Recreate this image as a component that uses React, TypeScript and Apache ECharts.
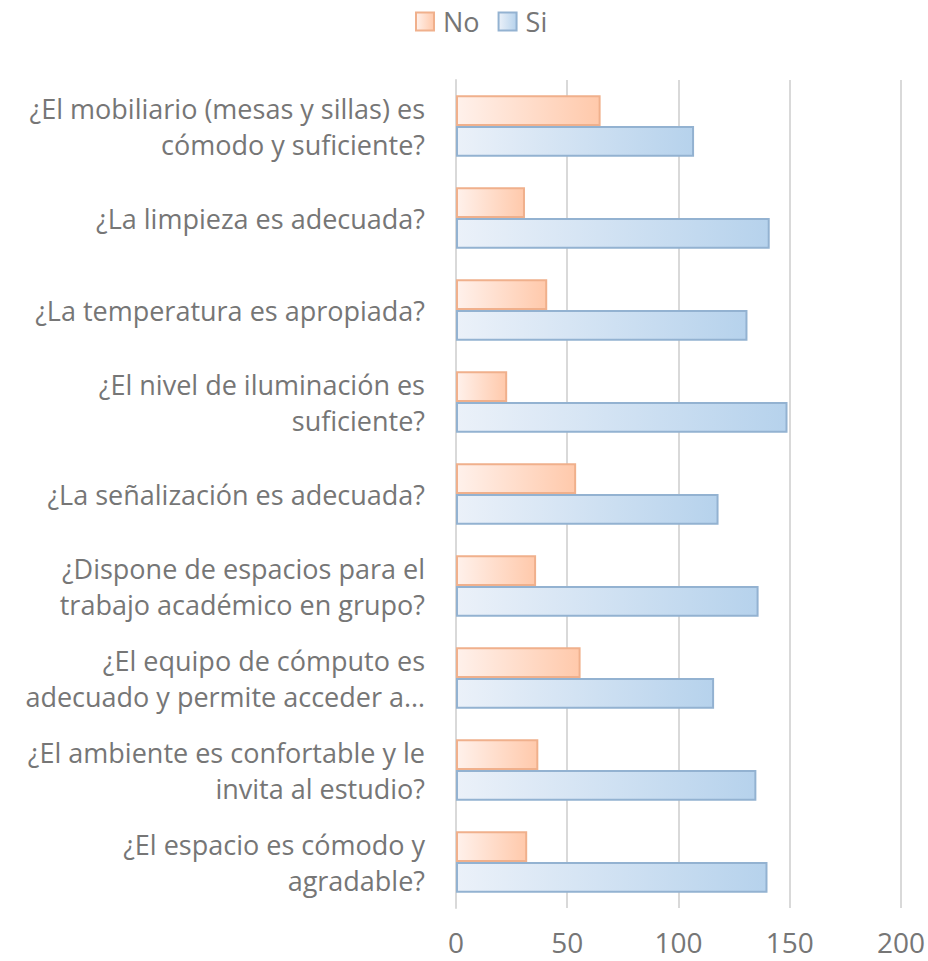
import React, { useEffect, useRef } from "react";
import * as echarts from "echarts";

const categories = [
  "¿El mobiliario (mesas y sillas) es\ncómodo y suficiente?",
  "¿La limpieza es adecuada?",
  "¿La temperatura es apropiada?",
  "¿El nivel de iluminación es\nsuficiente?",
  "¿La señalización es adecuada?",
  "¿Dispone de espacios para el\ntrabajo académico en grupo?",
  "¿El equipo de cómputo es\nadecuado y permite acceder a…",
  "¿El ambiente es confortable y le\ninvita al estudio?",
  "¿El espacio es cómodo y\nagradable?",
];
const noValues = [65, 31, 41, 23, 54, 36, 56, 37, 32];
const siValues = [107, 141, 131, 149, 118, 136, 116, 135, 140];
const seriesNames = ["No", "Si"];

const FONT = "'Open Sans', sans-serif";
const TEXT = "#767676";

function grad(c0: string, c1: string) {
  return new echarts.graphic.LinearGradient(0, 0, 1, 0, [
    { offset: 0, color: c0 },
    { offset: 1, color: c1 },
  ]);
}

export default function App() {
  const ref = useRef<HTMLDivElement>(null);
  useEffect(() => {
    if (!ref.current) return;
    const chart = echarts.init(ref.current, undefined, { renderer: "svg" });
    chart.setOption({
      animation: false,
      backgroundColor: "#ffffff",
      textStyle: { fontFamily: FONT },
      legend: {
        top: 3,
        left: 410,
        itemWidth: 18,
        itemHeight: 18,
        itemGap: 18,
        icon: "rect",
        textStyle: { fontSize: 27, color: TEXT, fontFamily: FONT, padding: [0, 0, 0, 4] },
        data: seriesNames,
      },
      grid: { left: 456, right: 27, top: 80, bottom: 53, containLabel: false },
      xAxis: {
        type: "value",
        min: 0,
        max: 200,
        interval: 50,
        axisLine: { show: false },
        axisTick: { show: false },
        splitLine: { show: true, lineStyle: { color: "#d9d9d9", width: 2 } },
        axisLabel: { fontSize: 28, color: TEXT, margin: 20, fontFamily: FONT },
      },
      yAxis: {
        type: "category",
        inverse: true,
        data: categories,
        axisLine: { show: true, lineStyle: { color: "#d9d9d9", width: 2 } },
        axisTick: { show: false },
        axisLabel: {
          fontSize: 27,
          color: TEXT,
          margin: 31,
          lineHeight: 36,
          align: "right",
          fontFamily: FONT,
        },
      },
      series: [
        {
          name: seriesNames[0],
          type: "bar",
          data: noValues,
          barGap: "0%",
          barCategoryGap: "33%",
          itemStyle: {
            color: grad("#fff1eb", "#ffc9ab"),
            borderColor: "#f0b08c",
            borderWidth: 2,
          },
        },
        {
          name: seriesNames[1],
          type: "bar",
          data: siValues,
          barGap: "0%",
          barCategoryGap: "33%",
          itemStyle: {
            color: grad("#ebf1f9", "#b6d2ec"),
            borderColor: "#93b2d1",
            borderWidth: 2,
          },
        },
      ],
    });
    return () => chart.dispose();
  }, []);
  return (
    <div
      ref={ref}
      style={{ position: "fixed", left: 0, top: 0, width: 928, height: 961 }}
    />
  );
}
